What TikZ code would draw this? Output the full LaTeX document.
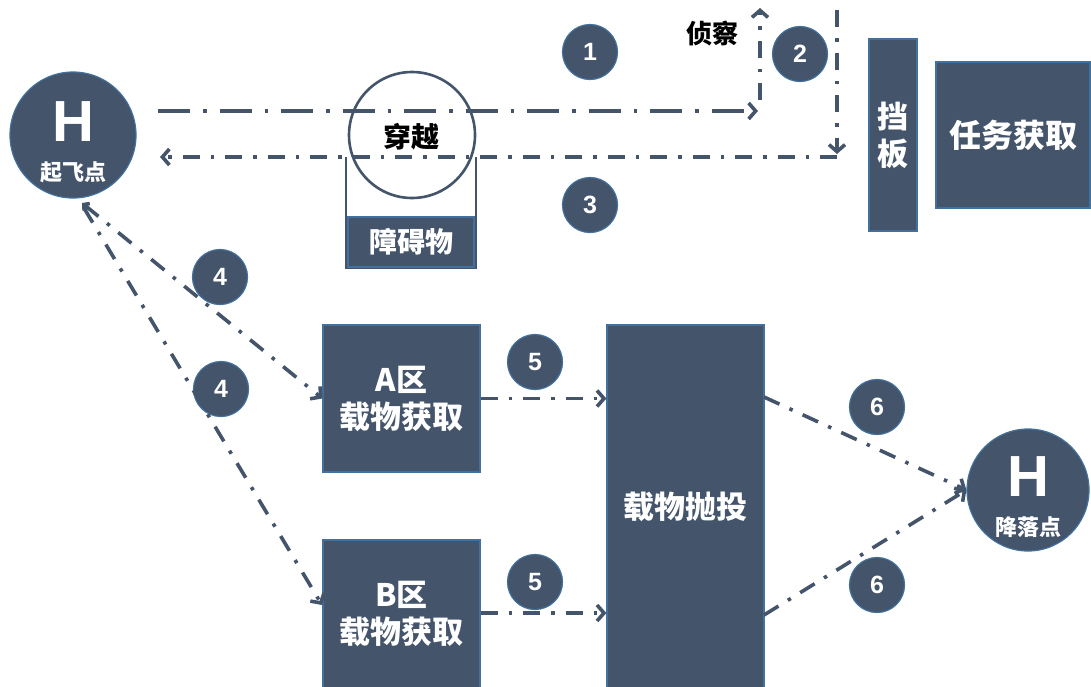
\documentclass[tikz,border=0pt]{standalone}
\usepackage{fontspec}
\setmainfont{Noto Sans CJK SC}
\newfontfamily\latinbold{Liberation Sans}
\usetikzlibrary{arrows.meta,calc}
\definecolor{slate}{HTML}{44546A}
\definecolor{edgeblue}{HTML}{41719C}
\begin{document}
\begin{tikzpicture}[x=1pt,y=-1pt,
  box/.style={draw=edgeblue, line width=1.2pt, fill=slate, text=white,
    font=\bfseries\fontsize{31}{37}\selectfont, align=center, inner sep=0pt},
  num/.style={circle, draw=edgeblue, line width=1.2pt, fill=slate, text=white,
    minimum size=55pt, inner sep=0pt, font=\latinbold\bfseries\fontsize{25}{25}\selectfont},
  hub/.style={circle, draw=edgeblue, line width=1.2pt, fill=slate, inner sep=0pt},
  hlabel/.style={text=white, font=\latinbold\bfseries\fontsize{58}{58}\selectfont, inner sep=0pt},
  sublabel/.style={text=white, font=\bfseries\fontsize{22}{22}\selectfont, inner sep=0pt},
  blacklabel/.style={text=black, font=\bfseries\fontsize{28}{28}\selectfont, inner sep=0pt},
  tip/.style={-{Straight Barb[length=7pt,width=16pt]}},
  conn/.style={draw=slate, line width=3.6pt, tip,
    dash pattern=on 17pt off 11pt on 3.5pt off 11pt},
  connlong/.style={draw=slate, line width=3.6pt, tip,
    dash pattern=on 32pt off 13pt on 3.5pt off 13pt},
]
\useasboundingbox (0,0) rectangle (1091,686);

% boxes
\node[box, minimum width=48pt, minimum height=192pt] (baffle) at (893,135) {挡\\板};
\node[box, font=\bfseries\fontsize{32}{37}\selectfont, minimum width=154pt, minimum height=146pt] (task) at (1013,135) {任务获取};
\node[box, minimum width=157pt, minimum height=147pt] (A) at (401.5,398.5) {A区\\载物获取};
\node[box, minimum width=157pt, minimum height=148pt] (B) at (401.5,614) {B区\\载物获取};
\node[box, minimum width=157pt, minimum height=364pt] (drop) at (685.5,507) {载物抛投};

% obstacle
\draw[slate, line width=2.6pt] (346,157) -- (346,268) -- (476,268) -- (476,157);
\node[box, font=\bfseries\fontsize{28}{28}\selectfont, minimum width=126pt, minimum height=50pt] (obst) at (411,242) {障碍物};
\node[circle, draw=slate, line width=2.6pt, minimum size=126pt, inner sep=0pt] (cross) at (412,135) {};
\node[blacklabel] (crosstext) at (411,137) {穿越};

% takeoff / landing
\node[hub, minimum size=126pt] (takeoff) at (73,135) {};
\node[hlabel] (takeoffH) at (73,122) {H};
\node[sublabel] (takeofftext) at (73,172) {起飞点};
\node[hub, minimum size=122pt] (landing) at (1028,490) {};
\node[hlabel] (landingH) at (1028,477) {H};
\node[sublabel] (landingtext) at (1028,527) {降落点};

% recon label
\node[blacklabel, font=\bfseries\fontsize{26}{26}\selectfont] (recon) at (712,33) {侦察};

% numbers
\node[num] (n1) at (590,52) {1};
\node[num] (n2) at (800,54) {2};
\node[num] (n3) at (590,205) {3};
\node[num] (n4a) at (220,277) {4};
\node[num] (n4b) at (221,389) {4};
\node[num] (n5a) at (535,362) {5};
\node[num] (n5b) at (535,582) {5};
\node[num] (n6a) at (877,407) {6};
\node[num] (n6b) at (877,585) {6};

% coordinates for free ends
\coordinate (r1s) at (158,111);
\coordinate (r1e) at (758,111);
\coordinate (r2s) at (760,100);
\coordinate (r2e) at (760,8);
\coordinate (r3s) at (837,10);
\coordinate (r3e) at (837,154);
\coordinate (r3h) at (837,157);
\coordinate (r3t) at (160,157);
\coordinate (s4a) at (82,203);
\coordinate (s4b) at (84,208);
\coordinate (t4b) at (322,605);
\coordinate (s6a) at (764,397);
\coordinate (s6b) at (764,615);

% connectors
\draw[connlong] (r1s) -- (r1e);
\draw[conn] (r2s) -- (r2e);
\draw[conn] (r3s) -- (r3e);
\draw[conn] (r3h) -- (r3t);
\draw[conn, {Straight Barb[length=4pt,width=9pt]}-{Straight Barb[length=7pt,width=16pt]}] (s4a) -- (A.west);
\draw[conn] (s4b) -- (t4b);
\draw[conn] (A.east) -- (drop.west |- A.east);
\draw[conn] (B.east |- 0,613) -- (drop.west |- 0,613);
\draw[conn] (s6a) -- (landing.west);
\draw[conn] (s6b) -- (landing.west);
\end{tikzpicture}
\end{document}
